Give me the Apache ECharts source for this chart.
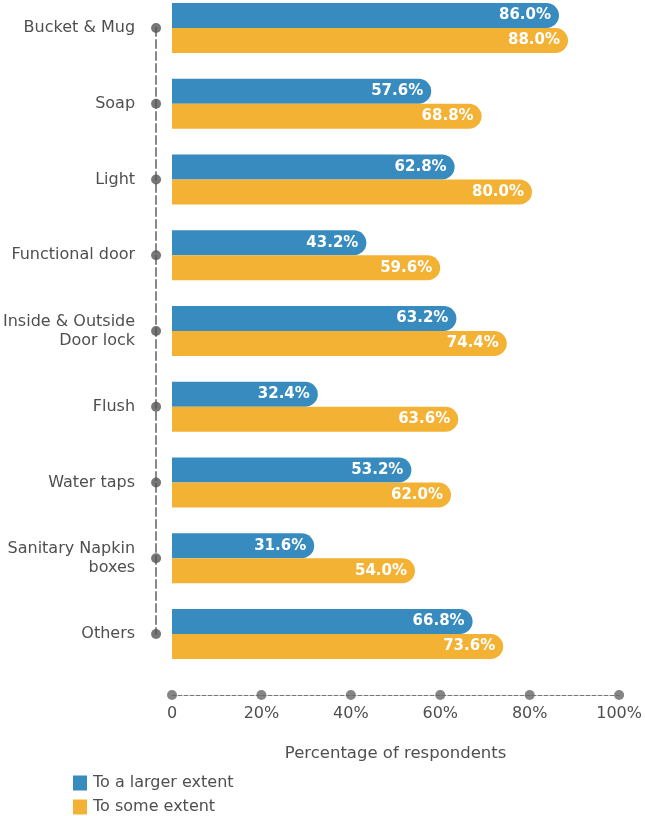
<!DOCTYPE html>
<html>
<head>
<meta charset="utf-8">
<script src="https://cdn.jsdelivr.net/npm/echarts@6/dist/echarts.min.js"></script>
<style>
  html, body { margin: 0; padding: 0; background: #ffffff; }
  #chart { width: 645px; height: 816px; }
</style>
</head>
<body>
<div id="chart"></div>
<script>
// Facilities in toilets, share of respondents
const categories = [
  'Bucket & Mug', 'Soap', 'Light', 'Functional door',
  'Inside & Outside\nDoor lock', 'Flush', 'Water taps',
  'Sanitary Napkin\nboxes', 'Others'
];
const largerExtent = [86.0, 57.6, 62.8, 43.2, 63.2, 32.4, 53.2, 31.6, 66.8];
const someExtent = [88.0, 68.8, 80.0, 59.6, 74.4, 63.6, 62.0, 54.0, 73.6];
const tickValues = [0, 20, 40, 60, 80, 100];

const BLUE = '#378bbe';
const ORANGE = '#f4b234';
const TEXT = '#4f4f4f';
const FONT = 'DejaVu Sans';

const valueLabel = {
  show: true,
  position: 'insideRight',
  distance: 8,
  color: '#ffffff',
  fontWeight: 'bold',
  fontSize: 15,
  fontFamily: FONT,
  formatter: p => p.value.toFixed(1) + '%'
};

const chart = echarts.init(document.getElementById('chart'), null, { renderer: 'canvas' });

chart.setOption({
  animation: false,
  textStyle: { fontFamily: FONT },
  legend: {
    orient: 'vertical',
    left: 73,
    top: 775,
    padding: 0,
    itemWidth: 14,
    itemHeight: 15,
    itemGap: 8,
    icon: 'rect',
    textStyle: { color: TEXT, fontSize: 16, fontFamily: FONT, padding: [0, 0, 0, 1] },
    data: ['To a larger extent', 'To some extent']
  },
  grid: [
    // bars
    { left: 172, right: 23, top: 28, bottom: 182 },
    // category axis with dots
    { left: 155, width: 10, top: 28, bottom: 182 },
    // percentage axis with dots
    { left: 172, right: 23, top: 694, height: 1 }
  ],
  xAxis: [
    { gridIndex: 0, type: 'value', min: 0, max: 100, show: false },
    { gridIndex: 1, type: 'value', min: 0, max: 1, show: false },
    {
      gridIndex: 2, type: 'value', min: 0, max: 100, interval: 20,
      axisLine: { show: true, lineStyle: { color: '#777', type: 'dashed', width: 1 } },
      axisTick: { show: false },
      splitLine: { show: false },
      axisLabel: {
        color: TEXT, fontSize: 16, fontFamily: FONT, margin: 11,
        formatter: v => v === 0 ? '0' : v + '%'
      },
      name: 'Percentage of respondents',
      nameLocation: 'middle',
      nameGap: 50,
      nameTextStyle: { color: TEXT, fontSize: 16.5, fontFamily: FONT }
    }
  ],
  yAxis: [
    {
      gridIndex: 0, type: 'category', data: categories, inverse: true,
      boundaryGap: false, show: false
    },
    {
      gridIndex: 1, type: 'category', data: categories, inverse: true,
      boundaryGap: false,
      axisLine: { show: true, lineStyle: { color: '#888', type: 'dashed', width: 2 } },
      axisTick: { show: false },
      axisLabel: {
        color: TEXT, fontSize: 16, fontFamily: FONT, margin: 21,
        lineHeight: 19, align: 'right'
      }
    },
    { gridIndex: 2, type: 'value', min: 0, max: 1, show: false }
  ],
  series: [
    {
      name: 'To a larger extent',
      type: 'bar',
      xAxisIndex: 0, yAxisIndex: 0,
      data: largerExtent,
      barWidth: 25,
      barGap: '0%',
      itemStyle: { color: BLUE, borderRadius: [0, 13, 13, 0] },
      label: valueLabel
    },
    {
      name: 'To some extent',
      type: 'bar',
      xAxisIndex: 0, yAxisIndex: 0,
      data: someExtent,
      barWidth: 25,
      barGap: '0%',
      itemStyle: { color: ORANGE, borderRadius: [0, 13, 13, 0] },
      label: valueLabel
    },
    {
      type: 'scatter',
      xAxisIndex: 1, yAxisIndex: 1,
      symbolSize: 10,
      clip: false,
      itemStyle: { color: '#555' },
      data: categories.map(c => [0, c]),
      silent: true
    },
    {
      type: 'scatter',
      xAxisIndex: 2, yAxisIndex: 2,
      symbolSize: 10,
      clip: false,
      itemStyle: { color: '#666' },
      data: tickValues.map(v => [v, 0]),
      silent: true
    }
  ]
});
</script>
</body>
</html>
